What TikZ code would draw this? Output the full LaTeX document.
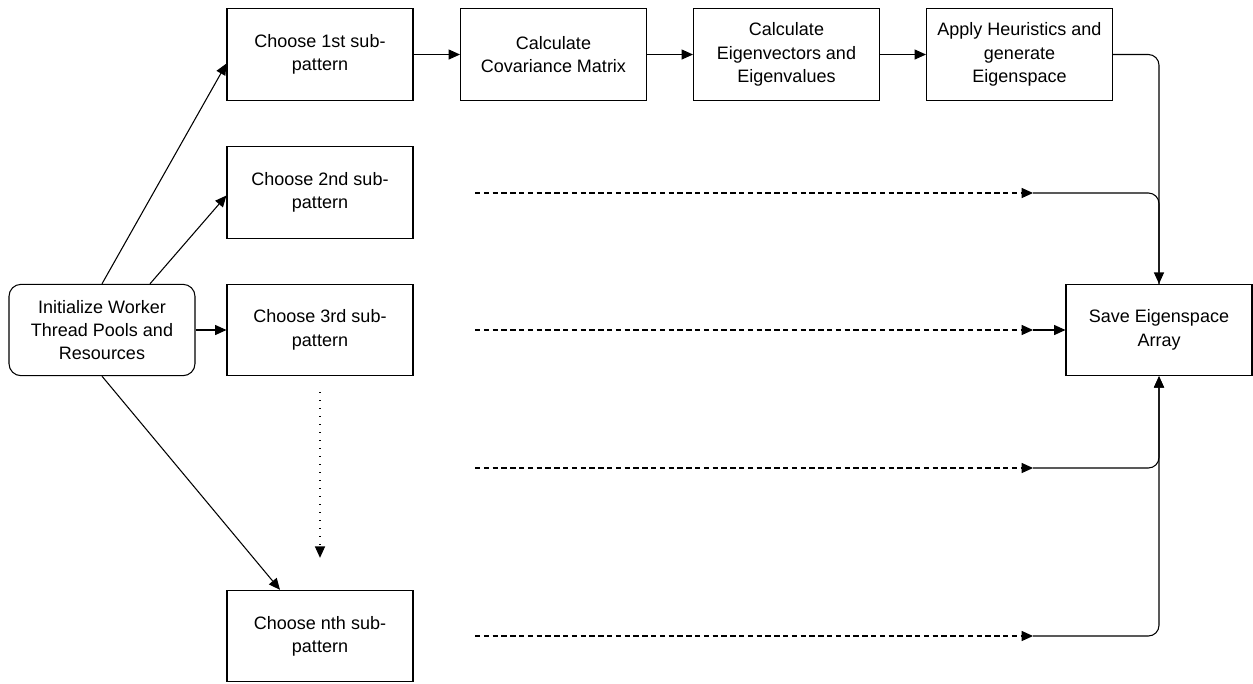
\documentclass[tikz,border=0pt]{standalone}
\usepackage{fontspec}
\setmainfont{Liberation Sans}
\usetikzlibrary{arrows.meta,calc}

\tikzset{
  stepbox/.style={draw, line width=0.8pt, minimum width=139.5pt, minimum height=68.5pt,
    align=center, inner sep=2pt, font=\fontsize{13.5}{17.5}\selectfont},
  startbox/.style={stepbox, rounded corners=9pt},
  flow/.style={line width=0.8pt, -{Triangle[length=8.5pt,width=7.5pt]}},
  skip/.style={flow, dash pattern=on 4pt off 2.6pt},
  merge/.style={line width=0.8pt, rounded corners=8pt}
}

\begin{document}
\begin{tikzpicture}[x=0.75pt, y=-0.75pt]

\useasboundingbox (0,0) rectangle (1253,683);

\node[startbox] (init) at (102,330) {Initialize Worker\\Thread Pools and\\Resources};

\node[stepbox] (c1) at (320,54.5) {Choose 1st sub-\\pattern};
\node[stepbox] (c2) at (320,192.5) {Choose 2nd sub-\\pattern};
\node[stepbox] (c3) at (320,330) {Choose 3rd sub-\\pattern};
\node[stepbox] (cn) at (320,636) {Choose nth sub-\\pattern};

\node[stepbox] (cov) at (553.5,54.5) {Calculate\\Covariance Matrix};
\node[stepbox] (eig) at (786.5,54.5) {Calculate\\Eigenvectors and\\Eigenvalues};
\node[stepbox] (heu) at (1019.5,54.5) {Apply Heuristics and\\generate\\Eigenspace};

\node[stepbox] (save) at (1159,330) {Save Eigenspace\\Array};

% fan out from the pool
\draw[flow] (init.north) -- ($(c1.west)+(0,9)$);
\draw[flow] ($(init.north)+(48,0)$) -- ($(c2.west)+(0,3)$);
\draw[flow] (init) -- (c3);
\draw[flow] (init.south) -- ($(cn.north)+(-40,0)$);

\coordinate (dtop) at ($(c3.south)+(0,16)$);
\coordinate (dbot) at ($(cn.north)+(0,-32)$);
\draw[flow, dash pattern=on 0.9pt off 5.1pt] (dtop) -- (dbot);

% first pipeline
\draw[flow] (c1) -- (cov);
\draw[flow] (cov) -- (eig);
\draw[flow] (eig) -- (heu);
\draw[merge, flow] (heu.east) -| (save.north);

% the other pipelines, skipped
\foreach \i/\y in {2/193, 3/330, 4/468, 5/636} {
  \coordinate (s\i) at (475,\y);
  \coordinate (e\i) at (1033,\y);
  \draw[skip] (s\i) -- (e\i);
}
\draw[merge] (e2) -| (save.north);
\draw[flow] (e3) -- (save.west);
\draw[merge, flow] (e4) -| (save.south);
\draw[merge, flow] (e5) -| (save.south);

\end{tikzpicture}
\end{document}
